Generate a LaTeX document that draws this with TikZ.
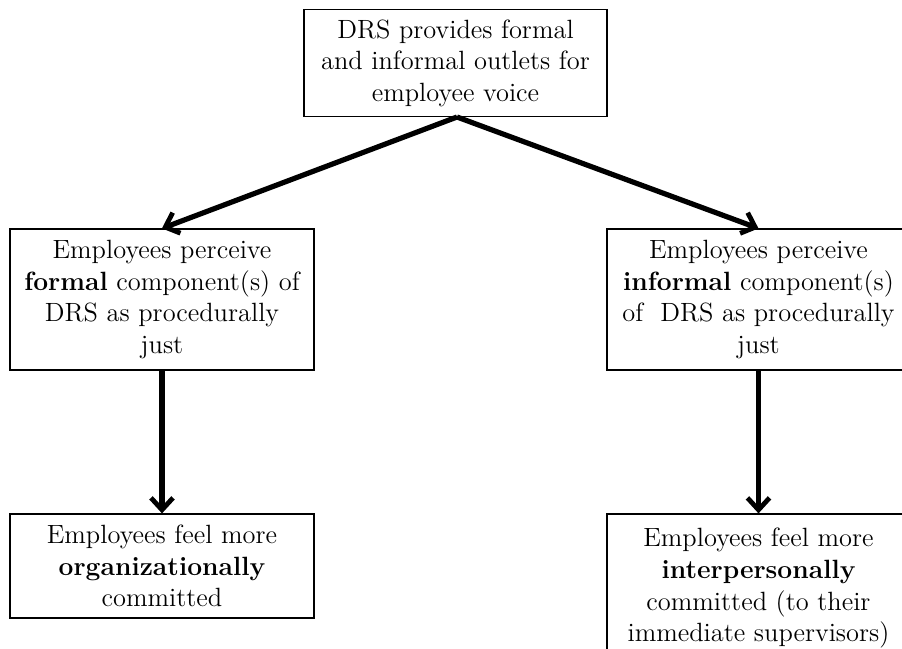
\documentclass[tikz,border=0pt]{standalone}
\usetikzlibrary{arrows.meta}
\begin{document}
\begin{tikzpicture}[x=0.5pt,y=-0.5pt,
  txt/.style={font=\fontsize{13.2}{15.8}\selectfont},
  box/.style={draw, line width=0.6pt, rectangle, align=center, inner sep=0pt, txt},
  conn/.style={line width=2.6pt, -{Straight Barb[length=6pt,width=11pt,line width=2.4pt]}}]
\useasboundingbox (0,0) rectangle (902,649);
\clip (0,0) rectangle (902,649);
\node[box, minimum width=303*0.5pt, minimum height=107*0.5pt] (top) at (455.5,63)
  {DRS provides formal\\and informal outlets for\\employee voice};
\node[box, minimum width=304*0.5pt, minimum height=141*0.5pt] (lm) at (162,299.5)
  {Employees perceive\\\textbf{formal} component(s) of\\DRS as procedurally\\just};
\node[box, minimum width=303*0.5pt, minimum height=141*0.5pt] (rm) at (758.5,299.5)
  {Employees perceive\\\textbf{informal} component(s)\\of~ DRS as procedurally\\just};
\node[box, minimum width=304*0.5pt, minimum height=104*0.5pt] (lb) at (162,566)
  {Employees feel more\\\textbf{organizationally}\\committed};
\node[draw, line width=0.6pt, minimum width=303*0.5pt, minimum height=160*0.5pt, inner sep=0pt] (rb) at (758.5,594) {};
\node[align=center, anchor=north, inner sep=0pt, txt] (rbt) at (758.5,528)
  {Employees feel more\\\textbf{interpersonally}\\committed (to their\\immediate supervisors)};
\coordinate (tb) at (457,117);
\draw[conn] (tb) -- (lm.north);
\draw[conn] (tb) -- (rm.north);
\draw[conn] (lm.south) -- (lb.north);
\draw[conn] (rm.south) -- (rb.north);
\end{tikzpicture}
\end{document}
